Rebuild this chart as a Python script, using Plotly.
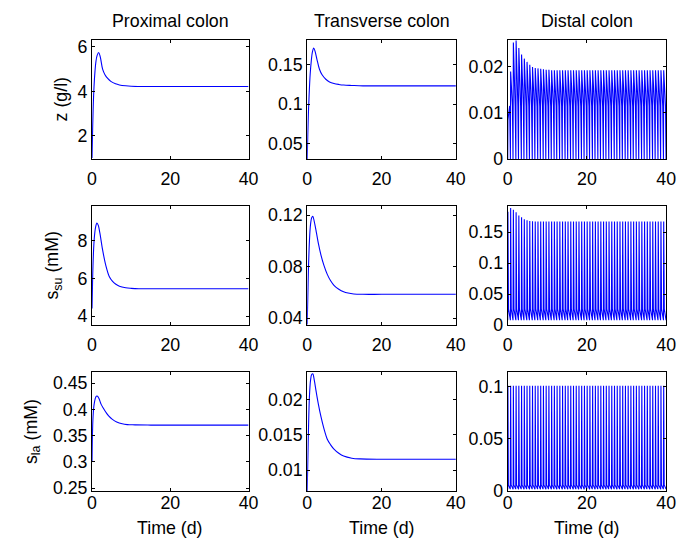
import plotly.graph_objects as go

W, H = 683, 552

# ---------------- data ----------------
columns = ["Proximal colon", "Transverse colon", "Distal colon"]
row_labels = ["z (g/l)", "s<sub>su</sub> (mM)", "s<sub>la</sub> (mM)"]
x_ticks = [0, 20, 40]
x_ticktext = ["0", "20", "40"]

# proximal z
t_z_prox = [0, 0.15, 0.3, 0.5, 0.75, 1.0, 1.3, 1.7, 2.1, 2.7, 3.3, 4.0, 4.8, 6.0, 7.0, 8.6, 10, 13, 20, 30, 40]
z_prox = [1.0, 2.3, 3.3, 4.2, 4.9, 5.35, 5.62, 5.75, 5.55, 5.0, 4.75, 4.58, 4.45, 4.34, 4.29, 4.25, 4.23, 4.22, 4.22, 4.22, 4.22]
# transverse z
t_z_trans = [0, 0.15, 0.3, 0.5, 0.8, 1.1, 1.4, 1.75, 2.1, 2.6, 3.3, 4.0, 5.0, 6.0, 7.2, 8.5, 9.8, 12, 15, 20, 30, 40]
z_trans = [0.03, 0.06, 0.085, 0.11, 0.138, 0.155, 0.166, 0.171, 0.167, 0.157, 0.144, 0.137, 0.1314, 0.128, 0.126, 0.1248, 0.124, 0.1235, 0.123, 0.123, 0.123, 0.123]
# proximal s_su
t_su_prox = [0, 0.15, 0.35, 0.6, 0.9, 1.25, 1.6, 2.0, 2.7, 3.5, 4.4, 5.2, 6.0, 7.0, 8.6, 10, 12, 15, 20, 30, 40]
su_prox = [4.4, 6.0, 7.3, 8.2, 8.7, 8.92, 8.8, 8.4, 7.5, 6.7, 6.1, 5.85, 5.7, 5.58, 5.5, 5.47, 5.45, 5.45, 5.45, 5.45, 5.45]
# transverse s_su
t_su_trans = [0, 0.15, 0.35, 0.6, 0.9, 1.2, 1.5, 1.9, 2.5, 3.0, 3.7, 4.5, 5.4, 6.3, 7.2, 8.5, 9.8, 11, 12.5, 15, 20, 30, 40]
su_trans = [0.035, 0.055, 0.08, 0.1, 0.113, 0.118, 0.119, 0.115, 0.106, 0.098, 0.089, 0.081, 0.074, 0.069, 0.0655, 0.0625, 0.0605, 0.0595, 0.0588, 0.0585, 0.0585, 0.0585, 0.0585]
# proximal s_la
t_la_prox = [0, 0.1, 0.25, 0.5, 0.8, 1.1, 1.4, 1.8, 2.3, 2.9, 3.5, 4.3, 5.2, 6.3, 7.7, 9, 11, 15, 20, 30, 40]
la_prox = [0.30, 0.35, 0.385, 0.408, 0.42, 0.425, 0.425, 0.42, 0.41, 0.402, 0.395, 0.387, 0.381, 0.376, 0.3725, 0.371, 0.3705, 0.37, 0.37, 0.37, 0.37]
# transverse s_la
t_la_trans = [0, 0.15, 0.35, 0.6, 0.9, 1.2, 1.5, 1.9, 2.4, 3.0, 3.7, 4.5, 5.4, 6.3, 7.2, 8.5, 9.8, 12, 14.2, 20, 30, 40]
la_trans = [0.007, 0.011, 0.016, 0.0205, 0.0228, 0.0236, 0.0237, 0.0228, 0.0212, 0.0194, 0.0176, 0.0159, 0.0144, 0.0136, 0.0130, 0.0124, 0.0120, 0.0117, 0.0116, 0.01155, 0.01155, 0.01155]

# distal colon: periodic pulses, one peak value per cycle
dist_period = 0.69
dist_first_peak = 0.05
z_dist_peaks = [0.0085, 0.0189, 0.0252, 0.0256, 0.0240, 0.0226, 0.0217, 0.0210, 0.0204, 0.0199,
                0.0197, 0.0196, 0.0195, 0.0194, 0.0193, 0.0193, 0.0192, 0.0192, 0.0192, 0.0192,
                0.0192, 0.0192, 0.0192, 0.0192, 0.0192, 0.0192, 0.0192, 0.0192, 0.0192, 0.0192,
                0.0192, 0.0192, 0.0192, 0.0192, 0.0192, 0.0192, 0.0192, 0.0192, 0.0192, 0.0192,
                0.0192, 0.0192, 0.0192, 0.0192, 0.0192, 0.0192, 0.0192, 0.0192, 0.0192, 0.0192,
                0.0192, 0.0192, 0.0192, 0.0192, 0.0192, 0.0192, 0.0192, 0.0192]
z_dist_mid, z_dist_low = 0.0115, 0.0
su_dist_peaks = [0.183, 0.189, 0.186, 0.182, 0.177, 0.174, 0.171, 0.169, 0.168, 0.1675,
                 0.167, 0.167, 0.167, 0.167, 0.167, 0.167, 0.167, 0.167, 0.167, 0.167,
                 0.167, 0.167, 0.167, 0.167, 0.167, 0.167, 0.167, 0.167, 0.167, 0.167,
                 0.167, 0.167, 0.167, 0.167, 0.167, 0.167, 0.167, 0.167, 0.167, 0.167,
                 0.167, 0.167, 0.167, 0.167, 0.167, 0.167, 0.167, 0.167, 0.167, 0.167,
                 0.167, 0.167, 0.167, 0.167, 0.167, 0.167, 0.167, 0.167]
su_dist_mid, su_dist_low = 0.026, 0.008
la_dist_peaks = [0.101] * 58
la_dist_mid, la_dist_low = 0.006, 0.002

# y ranges / ticks per panel (row-major)
y_ranges = [[0.94, 6.31], [0.03, 0.181], [0, 0.0257],
            [3.52, 9.82], [0.0345, 0.127], [0, 0.192],
            [0.244, 0.471], [0.007, 0.02395], [0, 0.114]]
y_ticks = [[2, 4, 6], [0.05, 0.1, 0.15], [0, 0.01, 0.02],
           [4, 6, 8], [0.04, 0.08, 0.12], [0, 0.05, 0.1, 0.15],
           [0.25, 0.3, 0.35, 0.4, 0.45], [0.01, 0.015, 0.02], [0, 0.05, 0.1]]
y_ticktext = [["2", "4", "6"], ["0.05", "0.1", "0.15"], ["0", "0.01", "0.02"],
              ["4", "6", "8"], ["0.04", "0.08", "0.12"], ["0", "0.05", "0.1", "0.15"],
              ["0.25", "0.3", "0.35", "0.4", "0.45"], ["0.01", "0.015", "0.02"], ["0", "0.05", "0.1"]]


def pulses(peaks, mid, low, off_mid, off_end):
    t, v = [0.0], [low]
    for k, p in enumerate(peaks):
        tp = dist_first_peak + dist_period * k
        for dt, val in ((-0.06, low), (0.0, p), (off_mid, mid), (off_end, low)):
            tt = tp + dt
            if 0 <= tt <= 40:
                t.append(tt); v.append(val)
    return t, v


tzd, zd = pulses(z_dist_peaks, z_dist_mid, z_dist_low, 0.45, 0.60)
tsd, sd = pulses(su_dist_peaks, su_dist_mid, su_dist_low, 0.15, 0.60)
tld, ld = pulses(la_dist_peaks, la_dist_mid, la_dist_low, 0.12, 0.60)

series = [(t_z_prox, z_prox, "spline"), (t_z_trans, z_trans, "spline"), (tzd, zd, "linear"),
          (t_su_prox, su_prox, "spline"), (t_su_trans, su_trans, "spline"), (tsd, sd, "linear"),
          (t_la_prox, la_prox, "spline"), (t_la_trans, la_trans, "spline"), (tld, ld, "linear")]

# ---------------- layout ----------------
col_px = [(89, 249), (309, 461), (514, 676)]
row_px = [(38, 160), (208, 330), (378, 500)]
x_label_standoff = [3, 3, -5]
FONT = "Liberation Sans, Arial, Helvetica, sans-serif"
FS = 17.8

fig = go.Figure()
layout = dict(width=W, height=H, margin=dict(l=0, r=0, t=0, b=0),
              paper_bgcolor="white", plot_bgcolor="white", showlegend=False,
              font=dict(family=FONT, size=FS, color="black"))
annotations = []

for i, (tx, vy, shape) in enumerate(series):
    r, c = divmod(i, 3)
    n = "" if i == 0 else str(i + 1)
    fig.add_trace(go.Scatter(x=tx, y=vy, mode="lines", line=dict(color="#0000ff", width=1.1, shape=shape),
                             xaxis="x" + n, yaxis="y" + n, hoverinfo="skip"))
    x0, x1 = col_px[c]
    y0, y1 = row_px[r]
    common = dict(showline=True, linecolor="black", linewidth=1, mirror="allticks", ticks="inside",
                  ticklen=3, tickcolor="black", showgrid=False, zeroline=False,
                  tickfont=dict(family=FONT, size=FS, color="black"))
    layout["xaxis" + n] = dict(domain=[x0 / W, x1 / W], range=[0, 40], tickvals=x_ticks,
                               ticktext=x_ticktext, anchor="y" + n,
                               ticklabelstandoff=x_label_standoff[r], **common)
    layout["yaxis" + n] = dict(domain=[1 - y1 / H, 1 - y0 / H], range=y_ranges[i], tickvals=y_ticks[i],
                               ticktext=y_ticktext[i], anchor="x" + n, **common)

for c, name in enumerate(columns):
    cx = (col_px[c][0] + col_px[c][1]) / 2
    annotations.append(dict(text=name, x=cx / W, y=1 - 18 / H, xref="paper", yref="paper",
                            showarrow=False, xanchor="center", yanchor="middle",
                            font=dict(family=FONT, size=FS)))
    annotations.append(dict(text="Time (d)", x=cx / W, y=1 - 538 / H, xref="paper", yref="paper",
                            showarrow=False, xanchor="center", yanchor="middle",
                            font=dict(family=FONT, size=FS)))

ylab_x = [57, 50, 28]
for r, lab in enumerate(row_labels):
    cy = (row_px[r][0] + row_px[r][1]) / 2
    annotations.append(dict(text=lab, x=ylab_x[r] / W, y=1 - cy / H, xref="paper", yref="paper",
                            showarrow=False, xanchor="center", yanchor="middle", textangle=-90,
                            font=dict(family=FONT, size=FS)))

layout["annotations"] = annotations
fig.update_layout(**layout)
fig.write_html("out.html")
